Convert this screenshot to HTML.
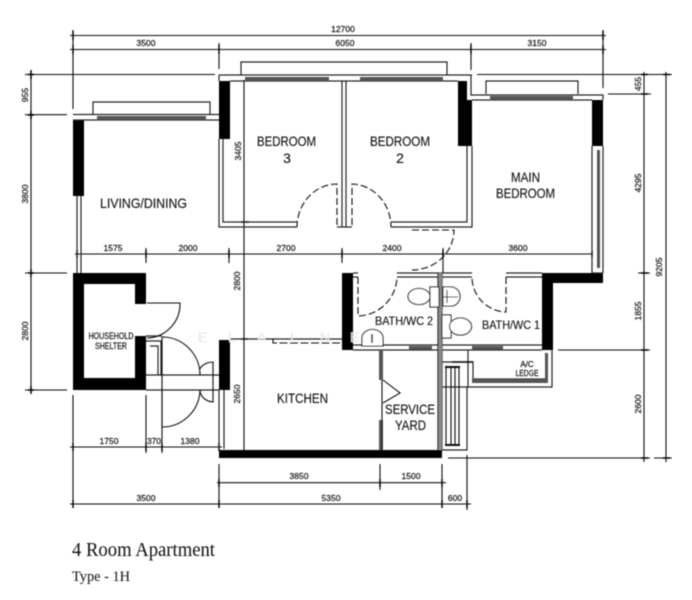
<!DOCTYPE html>
<html><head><meta charset="utf-8"><style>
html,body{margin:0;padding:0;background:#fff;width:692px;height:600px;overflow:hidden}
svg{display:block}
.d{font:8.5px "Liberation Sans",sans-serif;fill:#111;stroke:#111;stroke-width:.2;text-anchor:middle}
.r{font:14px "Liberation Sans",sans-serif;fill:#111;stroke:#111;stroke-width:.12}
.m{text-anchor:middle}
</style></head><body>
<svg width="692" height="600" viewBox="0 0 692 600" xmlns="http://www.w3.org/2000/svg">
<defs><filter id="b" x="0" y="0" width="100%" height="100%"><feGaussianBlur stdDeviation="0.4"/></filter></defs>
<g filter="url(#b)">
<!-- dimension lines -->
<g stroke="#111" stroke-width="1.1" fill="none">
<path d="M70 35.500H606M70 49.500H606M73 30V109M219 43V69M471 43V70M603 30V88"/>
<path d="M25 74.500H215M477 74.500H672M25 114.700H67M608 94H651M558 350H650M448 458H650"/>
<path d="M31 72V392M25 273H67M25 390H67"/>
<path d="M644 72V462M666 72V462M638 74.500H650M638 94H650M638 273H650M638 350H650M638 458H650M654 458H672"/>
<path d="M75 254H592M146 248V263M229 248V263M342 248V263M443 248V273"/>
<path d="M73 395V508M146 395V453M162 390V453M70 447H222M219 464V508M442 464V508M380 464V490M467 455V510M217 482.700H446M70 504H471"/>
<path d="M244 80V450"/>
</g>
<g stroke="#000" stroke-width="1.400" fill="none">
<path d="M73 31V40M603 31V40M73 45V54M219 45V54M471 45V54M603 45V54M28 74.500H34M28 115H34M28 273H34M28 390H34M31 70V79M31 111V119M31 269V277M31 386V394M641 74.500H648M641 94H648M641 273H648M641 350H648M641 458H648M663 74.500H670M663 458H670M77 250V258M146 250V258M229 250V258M342 250V258M443 250V258M592 251V257M146 443V451M162 443V451M73 443V451M219 443V451M219 479V487M380 479V487M442 479V487M73 500V508M219 500V508M442 500V508M467 500V508M241 222H249M241 339H248"/>
</g>
<!-- black walls -->
<g fill="#050505">
<rect x="73" y="120" width="11" height="76"/>
<rect x="219" y="81" width="11" height="58"/>
<path d="M458 81H467V100H472V146H458Z"/>
<rect x="592" y="100" width="11" height="46"/>
<path d="M73 273H146V304H135V284H84V378H135V336H146V390H73Z"/>
<rect x="219" y="340" width="11" height="50"/>
<rect x="219" y="450" width="223" height="8"/>
<rect x="342" y="273" width="11" height="77"/>
<path d="M542 273H603V283H553V350H542Z"/>
</g>
<!-- walls -->
<g stroke="#222" stroke-width="1.200" fill="none">
<path d="M73 114.500H219M73 120H219M219 75V81M219 75H472M230 81H458M471 75V95H603V100M472 100H592"/>
<path d="M77 196V273M81 196V273"/>
<path d="M93 114V102H210V114M241 75V62H447V75M486 94V81H578V94"/>
<path d="M219 139V227H297M223 139V222H297M342 81V227M346 81V227M337 227H352M391 222H467V146M391 227H472V146"/>
<path d="M592 146V273M603 146V273M592 273H603"/>
<path d="M146 375H219M146 390H219M146 341H161V375M150 346H158V375M146 336H162M219 390V449M224 390V449"/>
<path d="M230 339H342"/>
<path d="M353 273H358M397 273H472M506 273H542M353 277H358M397 277H472M506 277H542"/>
<path d="M438 273V450M442 273V450"/>
<path d="M353 345H542M353 350H542"/>
<path d="M442 362H473V379H546M442 387H468M468 350V387H552V350"/>
<path d="M467 387V450H442"/>
</g>
<!-- gray fill lines -->
<g fill="#555">
<rect x="97" y="116" width="109" height="4"/>
<rect x="245" y="77" width="84" height="4"/>
<rect x="360" y="77" width="83" height="4"/>
<rect x="490" y="96" width="83" height="4"/>
<rect x="409" y="346" width="23" height="3.500"/>
<rect x="472" y="346" width="31" height="3.500"/>
<rect x="597" y="150" width="3" height="118"/>
<rect x="438.500" y="273" width="3.500" height="177" fill="#888"/>
<rect x="472" y="379" width="74" height="4"/>
<rect x="545" y="353" width="3" height="30"/>
<rect x="379" y="350" width="4" height="30"/>
<rect x="379" y="420" width="4" height="30"/>
</g>
<!-- doors -->
<g stroke="#111" stroke-width="1.100" fill="none">
<path stroke-dasharray="7 3" d="M337 225V184A40 43 0 0 0 297 227"/>
<path stroke-dasharray="7 3" d="M352 225V184A40 43 0 0 1 391 227"/>
<path stroke-dasharray="7 3" d="M412 230H454A42 40 0 0 1 412 270"/>
<path stroke-dasharray="7 3" d="M358 277V316A40 40 0 0 0 397 277"/>
<path stroke-dasharray="7 3" d="M506 277V312A35 35 0 0 1 472 277"/>
<path stroke-dasharray="8 2.500" d="M273 339V343H342"/>
<path d="M147 303H180A34 34 0 0 1 147 338"/>
<path d="M162 337V427M162 337A38 38 0 0 1 200 375M200 390A38 38 0 0 1 162 427"/>
<path d="M200 369A14 9 0 0 1 213 362V402A14 12 0 0 1 200 390"/>
<path d="M382 380V450M383 380L400 393L383 403"/>
</g>
<!-- fixtures -->
<g stroke="#111" stroke-width="1.100" fill="#fff">
<ellipse cx="419" cy="296.500" rx="11" ry="8"/>
<rect x="430" y="287" width="9" height="20"/>
<path d="M443 287H451A9 9.500 0 0 1 451 306H443Z"/>
<path d="M443 297H458M447 290V303" fill="none"/>
<rect x="442" y="315" width="9" height="23"/>
<ellipse cx="460.500" cy="326.500" rx="11" ry="8.500"/>
<path d="M362 346V338A10.500 8.500 0 0 1 383 338V346Z"/>
<path d="M372 334V343" stroke-width="1.500"/>
</g>
<!-- rack -->
<g fill="none" stroke="#111" stroke-width="1.100">
<path d="M445 367H460M445 445H460" stroke-width="2"/>
<path d="M446 367V445M451 367V445M455 367V445M459 367V445"/>
<path d="M452 362H473" stroke-width="1.500"/>
</g>
<!-- watermark -->
<g font-family="Liberation Sans,sans-serif" font-size="14" fill="#e4e4e4">
<text x="198" y="342">E</text><text x="228" y="342">L</text><text x="257" y="342">A</text><text x="290" y="342">I</text><text x="320" y="342">N</text><text x="350" y="342">E</text>
</g>
<!-- dimensions text -->
<g class="dt">
<text class="d" x="343" y="32">12700</text>
<text class="d" x="146" y="46">3500</text>
<text class="d" x="345" y="46">6050</text>
<text class="d" x="537" y="46">3150</text>
<text class="d" x="113" y="251">1575</text>
<text class="d" x="188" y="251">2000</text>
<text class="d" x="286" y="251">2700</text>
<text class="d" x="392" y="251">2400</text>
<text class="d" x="518" y="251">3600</text>
<text class="d" x="109" y="444">1750</text>
<text class="d" x="154" y="444" textLength="14">370</text>
<text class="d" x="190" y="444">1380</text>
<text class="d" x="299" y="479">3850</text>
<text class="d" x="411" y="479">1500</text>
<text class="d" x="146" y="501">3500</text>
<text class="d" x="331" y="501">5350</text>
<text class="d" x="455" y="501">600</text>
<text class="d" transform="translate(28,95) rotate(-90)">955</text>
<text class="d" transform="translate(28,194) rotate(-90)">3800</text>
<text class="d" transform="translate(28,331) rotate(-90)">2800</text>
<text class="d" transform="translate(241,151) rotate(-90)">3405</text>
<text class="d" transform="translate(240,281) rotate(-90)">2800</text>
<text class="d" transform="translate(240,394) rotate(-90)">2650</text>
<text class="d" transform="translate(641,84) rotate(-90)">455</text>
<text class="d" transform="translate(641,183) rotate(-90)">4295</text>
<text class="d" transform="translate(641,311) rotate(-90)">1855</text>
<text class="d" transform="translate(641,404) rotate(-90)">2600</text>
<text class="d" transform="translate(662,267) rotate(-90)">9205</text>
</g>
<!-- room labels -->
<text class="r" x="100" y="208" textLength="87" lengthAdjust="spacingAndGlyphs">LIVING/DINING</text>
<text class="r" x="257" y="146" textLength="59" lengthAdjust="spacingAndGlyphs">BEDROOM</text>
<text class="r m" x="287" y="163">3</text>
<text class="r" x="370" y="146" textLength="60" lengthAdjust="spacingAndGlyphs">BEDROOM</text>
<text class="r m" x="400" y="163">2</text>
<text class="r" x="511" y="182" textLength="29" lengthAdjust="spacingAndGlyphs">MAIN</text>
<text class="r" x="496" y="198" textLength="59" lengthAdjust="spacingAndGlyphs">BEDROOM</text>
<text class="r" x="277" y="403" textLength="51" lengthAdjust="spacingAndGlyphs">KITCHEN</text>
<text class="r" x="385" y="414" textLength="50" lengthAdjust="spacingAndGlyphs">SERVICE</text>
<text class="r" x="395" y="430" textLength="31" lengthAdjust="spacingAndGlyphs">YARD</text>
<text class="r" x="375" y="325" style="font-size:12px" textLength="58" lengthAdjust="spacingAndGlyphs">BATH/WC 2</text>
<text class="r" x="482" y="329" style="font-size:12px" textLength="58" lengthAdjust="spacingAndGlyphs">BATH/WC 1</text>
<text class="d" x="527" y="367" style="font-size:8px">A/C</text>
<text class="d" x="527" y="376" textLength="23" lengthAdjust="spacingAndGlyphs" style="font-size:8px">LEDGE</text>
<text class="d" x="111" y="339" textLength="45" lengthAdjust="spacingAndGlyphs" style="font-size:9px">HOUSEHOLD</text>
<text class="d" x="111" y="349" textLength="32" lengthAdjust="spacingAndGlyphs" style="font-size:9px">SHELTER</text>
<!-- title -->
<text x="72" y="556" font-family="Liberation Serif,serif" font-size="20" fill="#111" textLength="143" lengthAdjust="spacingAndGlyphs">4 Room Apartment</text>
<text x="72" y="581" font-family="Liberation Serif,serif" font-size="14.500" fill="#111" textLength="58" lengthAdjust="spacingAndGlyphs">Type - 1H</text>
</g>
</svg>
</body></html>
